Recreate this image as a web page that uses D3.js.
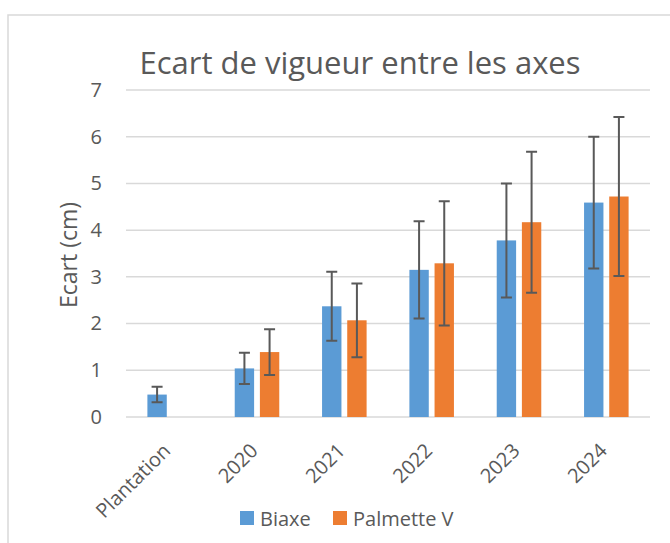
<!DOCTYPE html>
<html>
<meta http-equiv="content-type" content="text/html; charset=utf-8" />
<head>
    <title>Ecart de vigueur</title>
</head>
<style>
body { margin: 0; background: #fff; }
text { font-family: "Open Sans", sans-serif; fill: #595959; }
.grid line { stroke: #d9d9d9; stroke-width: 1.5; }
.err { stroke: #595959; stroke-width: 2; fill: none; }
</style>
<body>
<svg class="chart" width="670" height="543"></svg>
<script src="https://cdnjs.cloudflare.com/ajax/libs/d3/7.8.5/d3.min.js"></script>
<script type="text/javascript">
  // data
  var categories = ["Plantation", "2020", "2021", "2022", "2023", "2024"];
  var seriesNames = ["Biaxe", "Palmette V"];
  var biaxe = [0.48, 1.04, 2.37, 3.15, 3.78, 4.59];
  var biaxeErr = [0.165, 0.335, 0.74, 1.04, 1.22, 1.41];
  var palmette = [null, 1.39, 2.07, 3.29, 4.17, 4.72];
  var palmetteErr = [null, 0.49, 0.79, 1.33, 1.51, 1.70];
  var yTicks = [0, 1, 2, 3, 4, 5, 6, 7];
  var colors = ["#5b9bd5", "#ed7d31"];

  var margin = {top: 90, right: 20, bottom: 126, left: 126},
    width = 650 - margin.left,
    height = 543 - margin.top - margin.bottom;

  var svg = d3.select(".chart");

  // chart area border
  svg.append("path")
    .attr("d", "M8,560V15H680")
    .attr("fill", "none")
    .attr("stroke", "#d9d9d9")
    .attr("stroke-width", 1.5);

  var chart = svg.append("g")
    .attr("transform", "translate(" + margin.left + "," + margin.top + ")");

  var x0 = d3.scaleBand()
    .domain(categories)
    .range([0, width])
    .paddingInner(0.49)
    .paddingOuter(0.245);

  var x1 = d3.scaleBand()
    .domain(seriesNames)
    .range([0, x0.bandwidth()])
    .paddingInner(0.23);

  var y = d3.scaleLinear()
    .domain([0, 7])
    .range([height, 0]);

  // gridlines
  chart.append("g")
    .attr("class", "grid")
    .selectAll("line")
    .data(yTicks).enter()
    .append("line")
    .attr("x1", 0)
    .attr("x2", width)
    .attr("y1", function(d) { return y(d); })
    .attr("y2", function(d) { return y(d); });

  // y axis labels
  var yAxis = d3.axisLeft(y).tickValues(yTicks).tickFormat(d3.format("d"))
    .tickSize(0).tickPadding(24);
  var yg = chart.append("g").call(yAxis);
  yg.select(".domain").remove();
  yg.selectAll("text")
    .style("font-family", "'Open Sans', sans-serif")
    .style("font-size", "20px")
    .attr("fill", "#595959");

  // x axis labels
  var xAxis = d3.axisBottom(x0).tickSize(0).tickPadding(0);
  var xg = chart.append("g")
    .attr("transform", "translate(0," + height + ")")
    .call(xAxis);
  xg.select(".domain").remove();
  xg.selectAll("text")
    .style("font-family", "'Open Sans', sans-serif")
    .style("font-size", "20px")
    .attr("fill", "#595959")
    .attr("text-anchor", "end")
    .attr("dy", null)
    .attr("transform", "translate(2,35) rotate(-45)");

  var rows = categories.map(function(c, i) {
    return {cat: c, vals: [
      {s: seriesNames[0], v: biaxe[i], e: biaxeErr[i], c: colors[0]},
      {s: seriesNames[1], v: palmette[i], e: palmetteErr[i], c: colors[1]}
    ].filter(function(d) { return d.v != null; })};
  });

  var group = chart.selectAll(".group")
    .data(rows).enter()
    .append("g")
    .attr("transform", function(d) { return "translate(" + x0(d.cat) + ",0)"; });

  group.selectAll("rect")
    .data(function(d) { return d.vals; }).enter()
    .append("rect")
    .attr("x", function(d) { return x1(d.s); })
    .attr("y", function(d) { return y(d.v); })
    .attr("width", x1.bandwidth())
    .attr("height", function(d) { return height - y(d.v); })
    .attr("fill", function(d) { return d.c; });

  // error bars
  group.selectAll(".err")
    .data(function(d) { return d.vals; }).enter()
    .append("path")
    .attr("class", "err")
    .attr("d", function(d) {
      var cx = x1(d.s) + x1.bandwidth() / 2,
          hi = y(d.v + d.e), lo = y(d.v - d.e), w = 5.5;
      return "M" + cx + "," + hi + "V" + lo +
        "M" + (cx - w) + "," + hi + "H" + (cx + w) +
        "M" + (cx - w) + "," + lo + "H" + (cx + w);
    });

  // title
  svg.append("text")
    .attr("x", 360)
    .attr("y", 74)
    .attr("text-anchor", "middle")
    .style("font-size", "31px")
    .text("Ecart de vigueur entre les axes");

  // y axis title
  svg.append("text")
    .attr("transform", "translate(77,255) rotate(-90)")
    .attr("text-anchor", "middle")
    .style("font-size", "23px")
    .text("Ecart (cm)");

  // legend
  var legendX = [240, 333];
  var legend = svg.selectAll(".legend")
    .data(seriesNames).enter()
    .append("g")
    .attr("transform", function(d, i) { return "translate(" + legendX[i] + ",511)"; });
  legend.append("rect")
    .attr("width", 14)
    .attr("height", 14)
    .attr("fill", function(d, i) { return colors[i]; });
  legend.append("text")
    .attr("x", 20)
    .attr("y", 14.5)
    .style("font-size", "20px")
    .text(function(d) { return d; });
</script>
</body>
</html>
